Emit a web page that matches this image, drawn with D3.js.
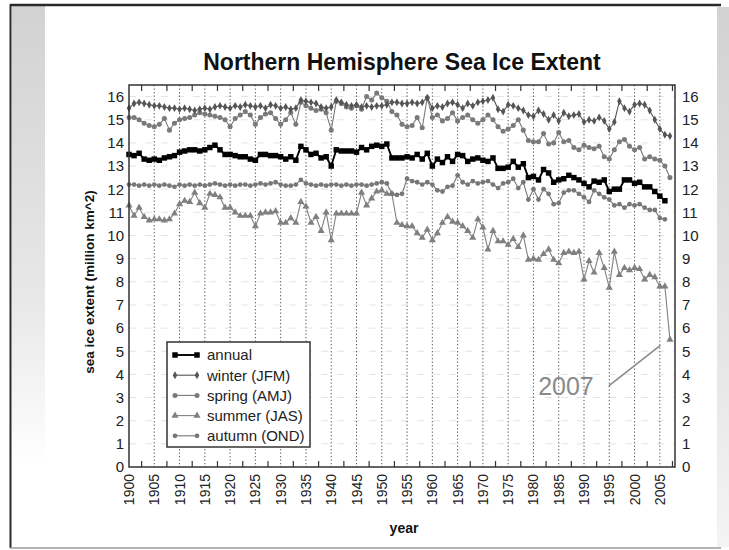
<!DOCTYPE html>
<html>
<head>
<meta charset="utf-8">
<script src="https://cdn.jsdelivr.net/npm/d3@7"></script>
<style>
  html, body { margin: 0; padding: 0; background: #fff; }
  svg { display: block; font-family: "Liberation Sans", Arial, Helvetica, sans-serif; }
</style>
</head>
<body>
<svg id="chart" width="729" height="550"></svg>
<script>
// ---------------- data ----------------
const startYear = 1900;
const xTickYears = [1900,1905,1910,1915,1920,1925,1930,1935,1940,1945,1950,1955,1960,1965,1970,1975,1980,1985,1990,1995,2000,2005];
const yTickValues = [0,1,2,3,4,5,6,7,8,9,10,11,12,13,14,15,16];

// annual 1900-2006
const annual = [
 13.5,13.45,13.55,13.3,13.25,13.3,13.25,13.35,13.4,13.45,
 13.6,13.65,13.7,13.7,13.65,13.7,13.8,13.9,13.7,13.5,
 13.5,13.45,13.4,13.4,13.3,13.25,13.5,13.5,13.45,13.45,
 13.4,13.3,13.4,13.25,13.85,13.7,13.5,13.55,13.35,13.4,
 13.0,13.7,13.65,13.65,13.65,13.6,13.8,13.7,13.85,13.9,
 13.85,13.95,13.35,13.35,13.35,13.4,13.35,13.5,13.3,13.55,
 13.0,13.3,13.15,13.4,13.2,13.5,13.45,13.2,13.3,13.35,
 13.25,13.2,13.35,12.9,12.9,12.95,13.2,12.95,13.1,12.5,
 12.55,12.4,12.85,12.7,12.3,12.4,12.45,12.6,12.5,12.4,
 12.25,12.1,12.35,12.3,12.4,11.9,12.0,12.0,12.4,12.4,
 12.25,12.3,12.1,12.1,11.9,11.7,11.5
];
// winter (JFM) 1900-2007
const winter = [
 15.5,15.7,15.75,15.7,15.65,15.6,15.6,15.55,15.5,15.5,
 15.45,15.5,15.45,15.4,15.45,15.5,15.45,15.55,15.6,15.55,
 15.5,15.6,15.55,15.65,15.6,15.55,15.6,15.5,15.65,15.6,
 15.5,15.55,15.45,15.5,15.85,15.8,15.75,15.7,15.55,15.5,
 15.55,15.85,15.75,15.65,15.6,15.65,15.55,15.6,15.55,15.6,
 15.6,15.65,15.75,15.75,15.7,15.7,15.75,15.7,15.75,15.95,
 15.5,15.6,15.55,15.7,15.75,15.65,15.5,15.7,15.6,15.75,
 15.8,15.85,15.95,15.45,15.35,15.65,15.6,15.5,15.4,15.2,
 15.15,15.4,15.25,15.0,15.2,14.95,15.3,15.15,15.2,15.25,
 14.9,15.0,14.95,15.1,14.95,14.6,14.9,15.8,15.5,15.35,
 15.65,15.7,15.65,15.4,15.0,14.6,14.35,14.3
];
// spring (AMJ) 1900-2007
const spring = [
 15.1,15.1,15.0,14.85,14.75,14.7,14.8,15.05,14.55,14.85,
 15.0,15.05,15.1,15.2,15.3,15.25,15.2,15.15,15.1,15.0,
 14.7,15.05,15.2,15.35,15.2,14.8,15.1,15.25,15.3,15.05,
 14.8,15.0,15.3,14.8,15.75,15.6,15.5,15.4,15.45,15.3,
 14.55,15.8,15.7,15.55,15.5,15.6,15.45,16.0,15.85,16.15,
 15.95,15.8,15.35,15.2,14.8,14.7,14.75,15.1,14.65,15.95,
 15.1,15.2,14.95,15.05,15.3,14.95,15.1,15.2,15.0,14.85,
 15.0,15.2,15.0,14.7,14.5,14.6,14.75,15.0,14.55,14.1,
 14.05,14.05,14.4,13.95,14.0,14.45,14.05,14.1,13.8,13.7,
 13.9,13.8,13.75,13.85,13.4,13.3,13.7,14.05,14.15,13.85,
 13.7,13.8,13.3,13.4,13.3,13.25,13.0,12.5
];
// summer (JAS) 1900-2007
const summer = [
 11.3,10.85,11.2,10.8,10.65,10.7,10.7,10.65,10.7,10.95,
 11.35,11.5,11.45,11.85,11.4,11.2,11.8,11.75,11.65,11.2,
 11.2,11.0,10.85,10.85,10.85,10.4,10.95,11.0,11.0,11.05,
 10.55,10.55,10.75,10.55,11.45,11.25,10.55,10.8,10.2,11.0,
 9.8,10.95,10.95,10.95,10.95,10.95,11.85,11.3,11.6,11.9,
 11.95,11.8,11.8,10.55,10.45,10.4,10.4,10.1,9.9,10.25,
 9.8,10.1,10.55,10.8,10.6,10.55,10.4,10.2,9.9,10.7,
 10.35,9.4,10.2,9.75,9.75,9.6,9.85,9.5,10.0,8.95,
 9.0,8.95,9.2,9.4,8.95,8.8,9.25,9.3,9.25,9.3,
 8.1,8.9,8.4,9.25,8.6,7.75,9.3,8.3,8.6,8.5,
 8.6,8.55,8.1,8.3,8.2,7.8,7.8,5.5
];
// autumn (OND) 1900-2006
const autumn = [
 12.2,12.2,12.15,12.2,12.15,12.2,12.15,12.2,12.15,12.1,
 12.2,12.15,12.2,12.15,12.2,12.15,12.2,12.25,12.2,12.15,
 12.2,12.15,12.2,12.2,12.15,12.2,12.25,12.2,12.25,12.3,
 12.2,12.15,12.15,12.2,12.4,12.25,12.2,12.15,12.2,12.15,
 12.2,12.2,12.15,12.2,12.15,12.2,12.2,12.15,12.2,12.25,
 12.3,12.25,11.8,11.75,11.8,12.45,12.35,12.3,12.2,12.3,
 12.2,11.95,11.9,12.1,12.15,12.6,12.3,12.2,12.35,12.25,
 12.3,12.35,12.2,12.05,12.25,12.3,12.45,12.05,12.3,11.55,
 12.0,11.55,12.0,11.8,11.35,11.4,11.85,11.95,11.95,11.8,
 11.65,11.45,11.95,11.8,11.65,11.55,11.3,11.35,11.2,11.35,
 11.3,11.35,11.2,11.1,11.1,10.75,10.7
];

const seriesNames = ["annual","winter (JFM)","spring (AMJ)","summer (JAS)","autumn (OND)"];
const seriesValues = [annual, winter, spring, summer, autumn];

// ---------------- drawing ----------------
const svg = d3.select("#chart");
const W = 729, H = 550;
const plot = {left: 129, right: 675, top: 85, bottom: 467};

const x = d3.scaleLinear().domain([1900, 2008]).range([plot.left, plot.right]);
const y = d3.scaleLinear().domain([0, 16.5]).range([plot.bottom, plot.top]);

// slide background decorations
const defs = svg.append("defs");
const gl = defs.append("linearGradient").attr("id","bandL").attr("x1",0).attr("y1",0).attr("x2",0).attr("y2",1);
gl.append("stop").attr("offset","0%").attr("stop-color","#d2d2d2");
gl.append("stop").attr("offset","55%").attr("stop-color","#e8e8e8");
gl.append("stop").attr("offset","85%").attr("stop-color","#ffffff");
const gr = defs.append("linearGradient").attr("id","bandR").attr("x1",0).attr("y1",0).attr("x2",0).attr("y2",1);
gr.append("stop").attr("offset","0%").attr("stop-color","#d2d2d2");
gr.append("stop").attr("offset","70%").attr("stop-color","#e8e8e8");
gr.append("stop").attr("offset","100%").attr("stop-color","#f4f4f4");

svg.append("rect").attr("x",0).attr("y",0).attr("width",W).attr("height",H).attr("fill","#fff");
svg.append("rect").attr("x",12).attr("y",6).attr("width",33).attr("height",540).attr("fill","url(#bandL)");
svg.append("rect").attr("x",717).attr("y",7).attr("width",12).attr("height",540).attr("fill","url(#bandR)");
// frame lines
svg.append("line").attr("x1",10).attr("x2",721).attr("y1",5).attr("y2",5).attr("stroke","#2a2a2a").attr("stroke-width",2.5);
svg.append("line").attr("x1",10.5).attr("x2",10.5).attr("y1",4).attr("y2",548).attr("stroke","#2a2a2a").attr("stroke-width",2);
svg.append("line").attr("x1",10).attr("x2",721).attr("y1",548).attr("y2",548).attr("stroke","#9a9a9a").attr("stroke-width",1.5);

// title
svg.append("text").attr("x",402).attr("y",70).attr("text-anchor","middle")
  .attr("font-size",23).attr("font-weight","bold").attr("fill","#111")
  .text("Northern Hemisphere Sea Ice Extent");

// plot background
svg.append("rect").attr("x",plot.left).attr("y",plot.top)
  .attr("width",plot.right-plot.left).attr("height",plot.bottom-plot.top).attr("fill","#fff");

// faint horizontal grid
svg.append("g").selectAll("line").data(yTickValues.filter(v => v > 0))
  .join("line")
  .attr("x1",plot.left).attr("x2",plot.right)
  .attr("y1",d => y(d)).attr("y2",d => y(d))
  .attr("stroke","#e4e4e4").attr("stroke-width",1).attr("stroke-dasharray","7,9");

// vertical dotted grid
svg.append("g").selectAll("line").data(xTickYears.filter(v => v > 1900))
  .join("line")
  .attr("x1",d => x(d)).attr("x2",d => x(d))
  .attr("y1",plot.top).attr("y2",plot.bottom)
  .attr("stroke","#555").attr("stroke-width",1).attr("stroke-dasharray","1.3,2.2");

// minor tick marks (at half-intervals) top and bottom
const minorTicks = d3.range(1902.5, 2008, 5);
const tg = svg.append("g").attr("stroke","#333").attr("stroke-width",1.2);
tg.selectAll(".tb").data(minorTicks).join("line").attr("class","tb")
  .attr("x1",d => x(d)).attr("x2",d => x(d)).attr("y1",plot.bottom).attr("y2",plot.bottom-6);
tg.selectAll(".tt").data(minorTicks).join("line").attr("class","tt")
  .attr("x1",d => x(d)).attr("x2",d => x(d)).attr("y1",plot.top).attr("y2",plot.top+6);

// series styles
const styles = [
  {line:"#000", lw:1.9, fill:"#000", sym:d3.symbolSquare, size:30},
  {line:"#555", lw:1.1, fill:"#555", sym:d3.symbolDiamond, size:18},
  {line:"#7a7a7a", lw:1.1, fill:"#7a7a7a", sym:d3.symbolCircle, size:20},
  {line:"#808080", lw:1.1, fill:"#808080", sym:d3.symbolTriangle, size:22},
  {line:"#777", lw:1.1, fill:"#777", sym:d3.symbolCircle, size:18}
];

const lineGen = d3.line().x((d,i) => x(startYear + i)).y(d => y(d));
// draw order: background series first, annual on top
const order = [3,4,2,1,0];
order.forEach(si => {
  const vals = seriesValues[si], st = styles[si];
  const g = svg.append("g");
  g.append("path").datum(vals).attr("d",lineGen).attr("fill","none")
    .attr("stroke",st.line).attr("stroke-width",st.lw).attr("stroke-linejoin","round");
  g.selectAll("path.m").data(vals).join("path").attr("class","m")
    .attr("transform",(d,i) => `translate(${x(startYear+i)},${y(d)})`)
    .attr("d",d3.symbol().type(st.sym).size(st.size)).attr("fill",st.fill);
});

// plot frame
svg.append("rect").attr("x",plot.left).attr("y",plot.top)
  .attr("width",plot.right-plot.left).attr("height",plot.bottom-plot.top)
  .attr("fill","none").attr("stroke","#333").attr("stroke-width",1.5);

// y tick labels (both sides)
svg.append("g").selectAll("text").data(yTickValues).join("text")
  .attr("x",plot.left-5).attr("y",d => y(d)).attr("dy","0.36em")
  .attr("text-anchor","end").attr("font-size",15).attr("fill","#222").text(d => d);
svg.append("g").selectAll("text").data(yTickValues).join("text")
  .attr("x",plot.right+7).attr("y",d => y(d)).attr("dy","0.36em")
  .attr("text-anchor","start").attr("font-size",15).attr("fill","#222").text(d => d);

// x tick labels rotated
svg.append("g").selectAll("text").data(xTickYears).join("text")
  .attr("transform",d => `translate(${x(d)},${plot.bottom+7}) rotate(-90)`)
  .attr("dy","0.36em").attr("text-anchor","end")
  .attr("font-size",14).attr("fill","#222").text(d => d);

// axis titles
svg.append("text").attr("transform",`translate(94,${(plot.top+plot.bottom)/2+6}) rotate(-90)`)
  .attr("text-anchor","middle").attr("font-size",13.5).attr("font-weight","bold").attr("fill","#111")
  .text("sea ice extent (million km^2)");
svg.append("text").attr("x",(plot.left+plot.right)/2+2).attr("y",533)
  .attr("text-anchor","middle").attr("font-size",14).attr("font-weight","bold").attr("fill","#111")
  .text("year");

// legend
const lg = svg.append("g").attr("transform","translate(167,342)");
lg.append("rect").attr("x",0).attr("y",0).attr("width",143).attr("height",105)
  .attr("fill","#fff").attr("stroke","#333").attr("stroke-width",1.5);
seriesNames.forEach((name, i) => {
  const st = styles[i];
  const cy = 13 + i*20.2;
  lg.append("line").attr("x1",8).attr("x2",30).attr("y1",cy).attr("y2",cy)
    .attr("stroke",st.line).attr("stroke-width",st.lw);
  [8,30].forEach(cx => lg.append("path").attr("transform",`translate(${cx},${cy})`)
    .attr("d",d3.symbol().type(st.sym).size(st.size)).attr("fill",st.fill));
  lg.append("text").attr("x",40).attr("y",cy).attr("dy","0.36em")
    .attr("font-size",15).attr("fill","#222").text(name);
});

// 2007 annotation
svg.append("line")
  .attr("x1",x(1994.9)).attr("y1",y(3.5))
  .attr("x2",x(2005.1)).attr("y2",y(5.25))
  .attr("stroke","#8a8a8a").attr("stroke-width",1.6);
svg.append("text").attr("x",x(1994.9)-15).attr("y",y(3.5)).attr("dy","0.36em")
  .attr("text-anchor","end").attr("font-size",25).attr("fill","#8a8a8a").text("2007");
</script>
</body>
</html>
